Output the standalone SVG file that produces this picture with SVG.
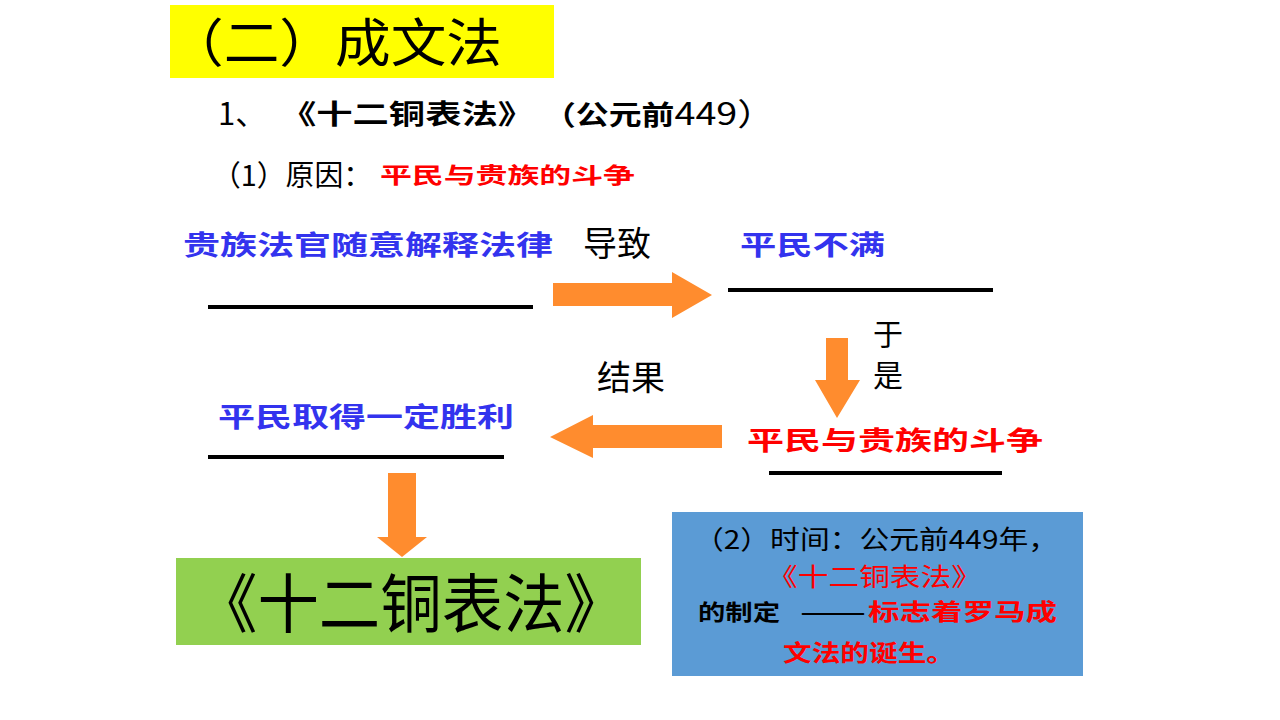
<svg xmlns="http://www.w3.org/2000/svg" width="1280" height="720" viewBox="0 0 1280 720">
<style>
text{font-family:"Noto Sans CJK SC","Liberation Sans",sans-serif;}
.blk{fill:#000;}
.blue{fill:#3333EE;font-weight:bold;}
.red{fill:#FF0000;font-weight:bold;}
.ul{stroke:#000;stroke-width:4;}
.arr{fill:#FF8C2E;}
</style>
<rect width="1280" height="720" fill="#fff"/>
<g id="title">
<rect x="170" y="5" width="384" height="73" fill="#FFFF00"/>
<text x="168" y="62" font-size="52" class="blk" textLength="334" lengthAdjust="spacingAndGlyphs">（二）成文法</text>
</g>
<g id="heading1">
<text x="218" y="125" font-size="31" class="blk">1、</text>
<text x="280" y="124" font-size="27" class="blk" font-weight="bold" textLength="254" lengthAdjust="spacingAndGlyphs">《十二铜表法》</text>
<text x="543" y="125" font-size="31" class="blk" textLength="232" lengthAdjust="spacingAndGlyphs"><tspan font-weight="bold" font-size="27">（公元前</tspan>449）</text>
</g>
<g id="cause">
<text x="212" y="186" font-size="29" class="blk" textLength="160" lengthAdjust="spacingAndGlyphs">（1）原因：</text>
<text x="380" y="183" font-size="22" class="red" textLength="255" lengthAdjust="spacingAndGlyphs">平民与贵族的斗争</text>
</g>
<g id="n1">
<text x="183" y="255" font-size="27" class="blue" textLength="370" lengthAdjust="spacingAndGlyphs">贵族法官随意解释法律</text>
<line class="ul" x1="208" y1="307" x2="533" y2="307"/>
</g>
<g id="n2">
<text x="740" y="255" font-size="27" class="blue" textLength="145" lengthAdjust="spacingAndGlyphs">平民不满</text>
<line class="ul" x1="728" y1="290" x2="993" y2="290"/>
</g>
<g id="n3">
<text x="747" y="450" font-size="26" class="red" textLength="296" lengthAdjust="spacingAndGlyphs">平民与贵族的斗争</text>
<line class="ul" x1="769" y1="473" x2="1002" y2="473"/>
</g>
<g id="n4">
<text x="218" y="427" font-size="27" class="blue" textLength="296" lengthAdjust="spacingAndGlyphs">平民取得一定胜利</text>
<line class="ul" x1="208" y1="457" x2="504" y2="457"/>
</g>
<g id="n5">
<rect x="176" y="558" width="465" height="87" fill="#92D050"/>
<text x="196" y="627" font-size="64" class="blk" textLength="430" lengthAdjust="spacingAndGlyphs">《十二铜表法》</text>
</g>
<g id="n6">
<rect x="672" y="512" width="411" height="164" fill="#5B9BD5"/>
<text x="694" y="549" font-size="26" class="blk" textLength="364" lengthAdjust="spacingAndGlyphs">（2）时间：公元前449年，</text>
<text x="767" y="586" font-size="25" fill="#FF0000" textLength="215" lengthAdjust="spacingAndGlyphs">《十二铜表法》</text>
<text x="698" y="620" font-size="22" font-weight="bold" class="blk" textLength="82" lengthAdjust="spacingAndGlyphs">的制定</text>
<text x="800" y="620" font-size="22" font-weight="bold" class="blk" textLength="66" lengthAdjust="spacingAndGlyphs">——</text>
<text x="868" y="620" font-size="23" class="red" textLength="189" lengthAdjust="spacingAndGlyphs">标志着罗马成</text>
<text x="783" y="661" font-size="23" class="red" textLength="172" lengthAdjust="spacingAndGlyphs">文法的诞生。</text>
</g>
<g id="connectors">
<polygon class="arr" points="553,283 672,283 672,272 712,295 672,318 672,306 553,306"/>
<text x="583" y="256" font-size="34" class="blk">导致</text>
<polygon class="arr" points="826,338 848,338 848,380 860,380 837,418 815,380 826,380"/>
<text x="873" y="345" font-size="30" class="blk">于</text>
<text x="873" y="386" font-size="30" class="blk">是</text>
<polygon class="arr" points="722,425 593,425 593,415 550,437 593,458 593,448 722,448"/>
<text x="597" y="390" font-size="34" class="blk">结果</text>
<polygon class="arr" points="388,473 416,473 416,537 427,537 402,557 377,537 388,537"/>
</g>
</svg>
